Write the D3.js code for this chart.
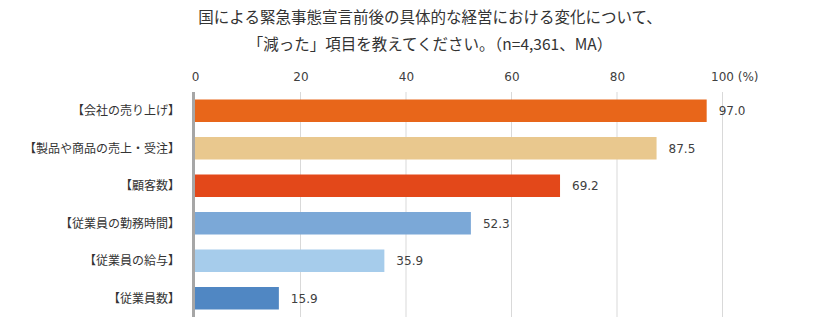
<!DOCTYPE html>
<html><head><meta charset="utf-8">
<script src="https://cdn.jsdelivr.net/npm/d3@7/dist/d3.min.js"></script>
<style>body{margin:0;background:#fff}</style>
</head><body>
<script>
const categories = ["【会社の売り上げ】","【製品や商品の売上・受注】","【顧客数】","【従業員の勤務時間】","【従業員の給与】","【従業員数】"];
const values = [97.0, 87.5, 69.2, 52.3, 35.9, 15.9];
const colors = ["#E8661A","#E9C88E","#E3481A","#7BA8D7","#A6CCEB","#5087C3"];
const ticks = [0,20,40,60,80,100];
const titleLines = ["国による緊急事態宣言前後の具体的な経営における変化について、","「減った」項目を教えてください。（n=4,361、MA）"];

const W=820,H=335;
const svg=d3.select("body").append("svg").attr("width",W).attr("height",H);
const jp="'Noto Sans CJK JP','Noto Sans',sans-serif";
const num="'DejaVu Sans',Verdana,sans-serif";

const x=d3.scaleLinear().domain([0,100]).range([195,722.5]);
const y=d3.scaleBand().domain(categories).range([92,317]).paddingInner(0.4).paddingOuter(0.2);

svg.selectAll(".t").data(titleLines).join("text")
  .attr("x",430).attr("y",(d,i)=>23+i*27).attr("text-anchor","middle")
  .attr("font-family",jp).attr("font-size",15.5).attr("fill","#333").text(d=>d);

// grid
svg.append("g").selectAll("line").data(ticks.slice(1)).join("line")
  .attr("x1",d=>x(d)).attr("x2",d=>x(d)).attr("y1",92).attr("y2",317)
  .attr("stroke","#d9d9d9").attr("stroke-width",1);

// tick labels
const ax=svg.append("g").attr("transform","translate(0,81)")
  .call(d3.axisTop(x).tickValues(ticks).tickSize(0).tickPadding(0).tickFormat(d=>d===100?"100 (%)":d));
ax.select(".domain").remove();
ax.selectAll("text").attr("font-family",num).attr("font-size",12).attr("fill","#404040");
ax.selectAll(".tick").filter(d=>d===100).select("text").attr("text-anchor","start").attr("dx",-12);

// bars
svg.append("g").selectAll("rect").data(values).join("rect")
  .attr("x",x(0)).attr("y",(d,i)=>y(categories[i]))
  .attr("width",d=>x(d)-x(0)).attr("height",y.bandwidth())
  .attr("fill",(d,i)=>colors[i]);

// axis line
svg.append("line").attr("x1",x(0)-1.5).attr("x2",x(0)-1.5).attr("y1",92).attr("y2",317)
  .attr("stroke","#a6a6a6").attr("stroke-width",3);

// value labels
svg.append("g").selectAll("text").data(values).join("text")
  .attr("x",d=>x(d)+12).attr("y",(d,i)=>y(categories[i])+y.bandwidth()/2+4.5)
  .attr("font-family",num).attr("font-size",12).attr("fill","#404040")
  .text(d=>d.toFixed(1));

// category labels
svg.append("g").selectAll("text").data(categories).join("text")
  .attr("x",180).attr("y",d=>y(d)+y.bandwidth()/2+4.5).attr("text-anchor","end")
  .attr("font-family",jp).attr("font-size",12).attr("fill","#333").text(d=>d);
</script>
</body></html>
